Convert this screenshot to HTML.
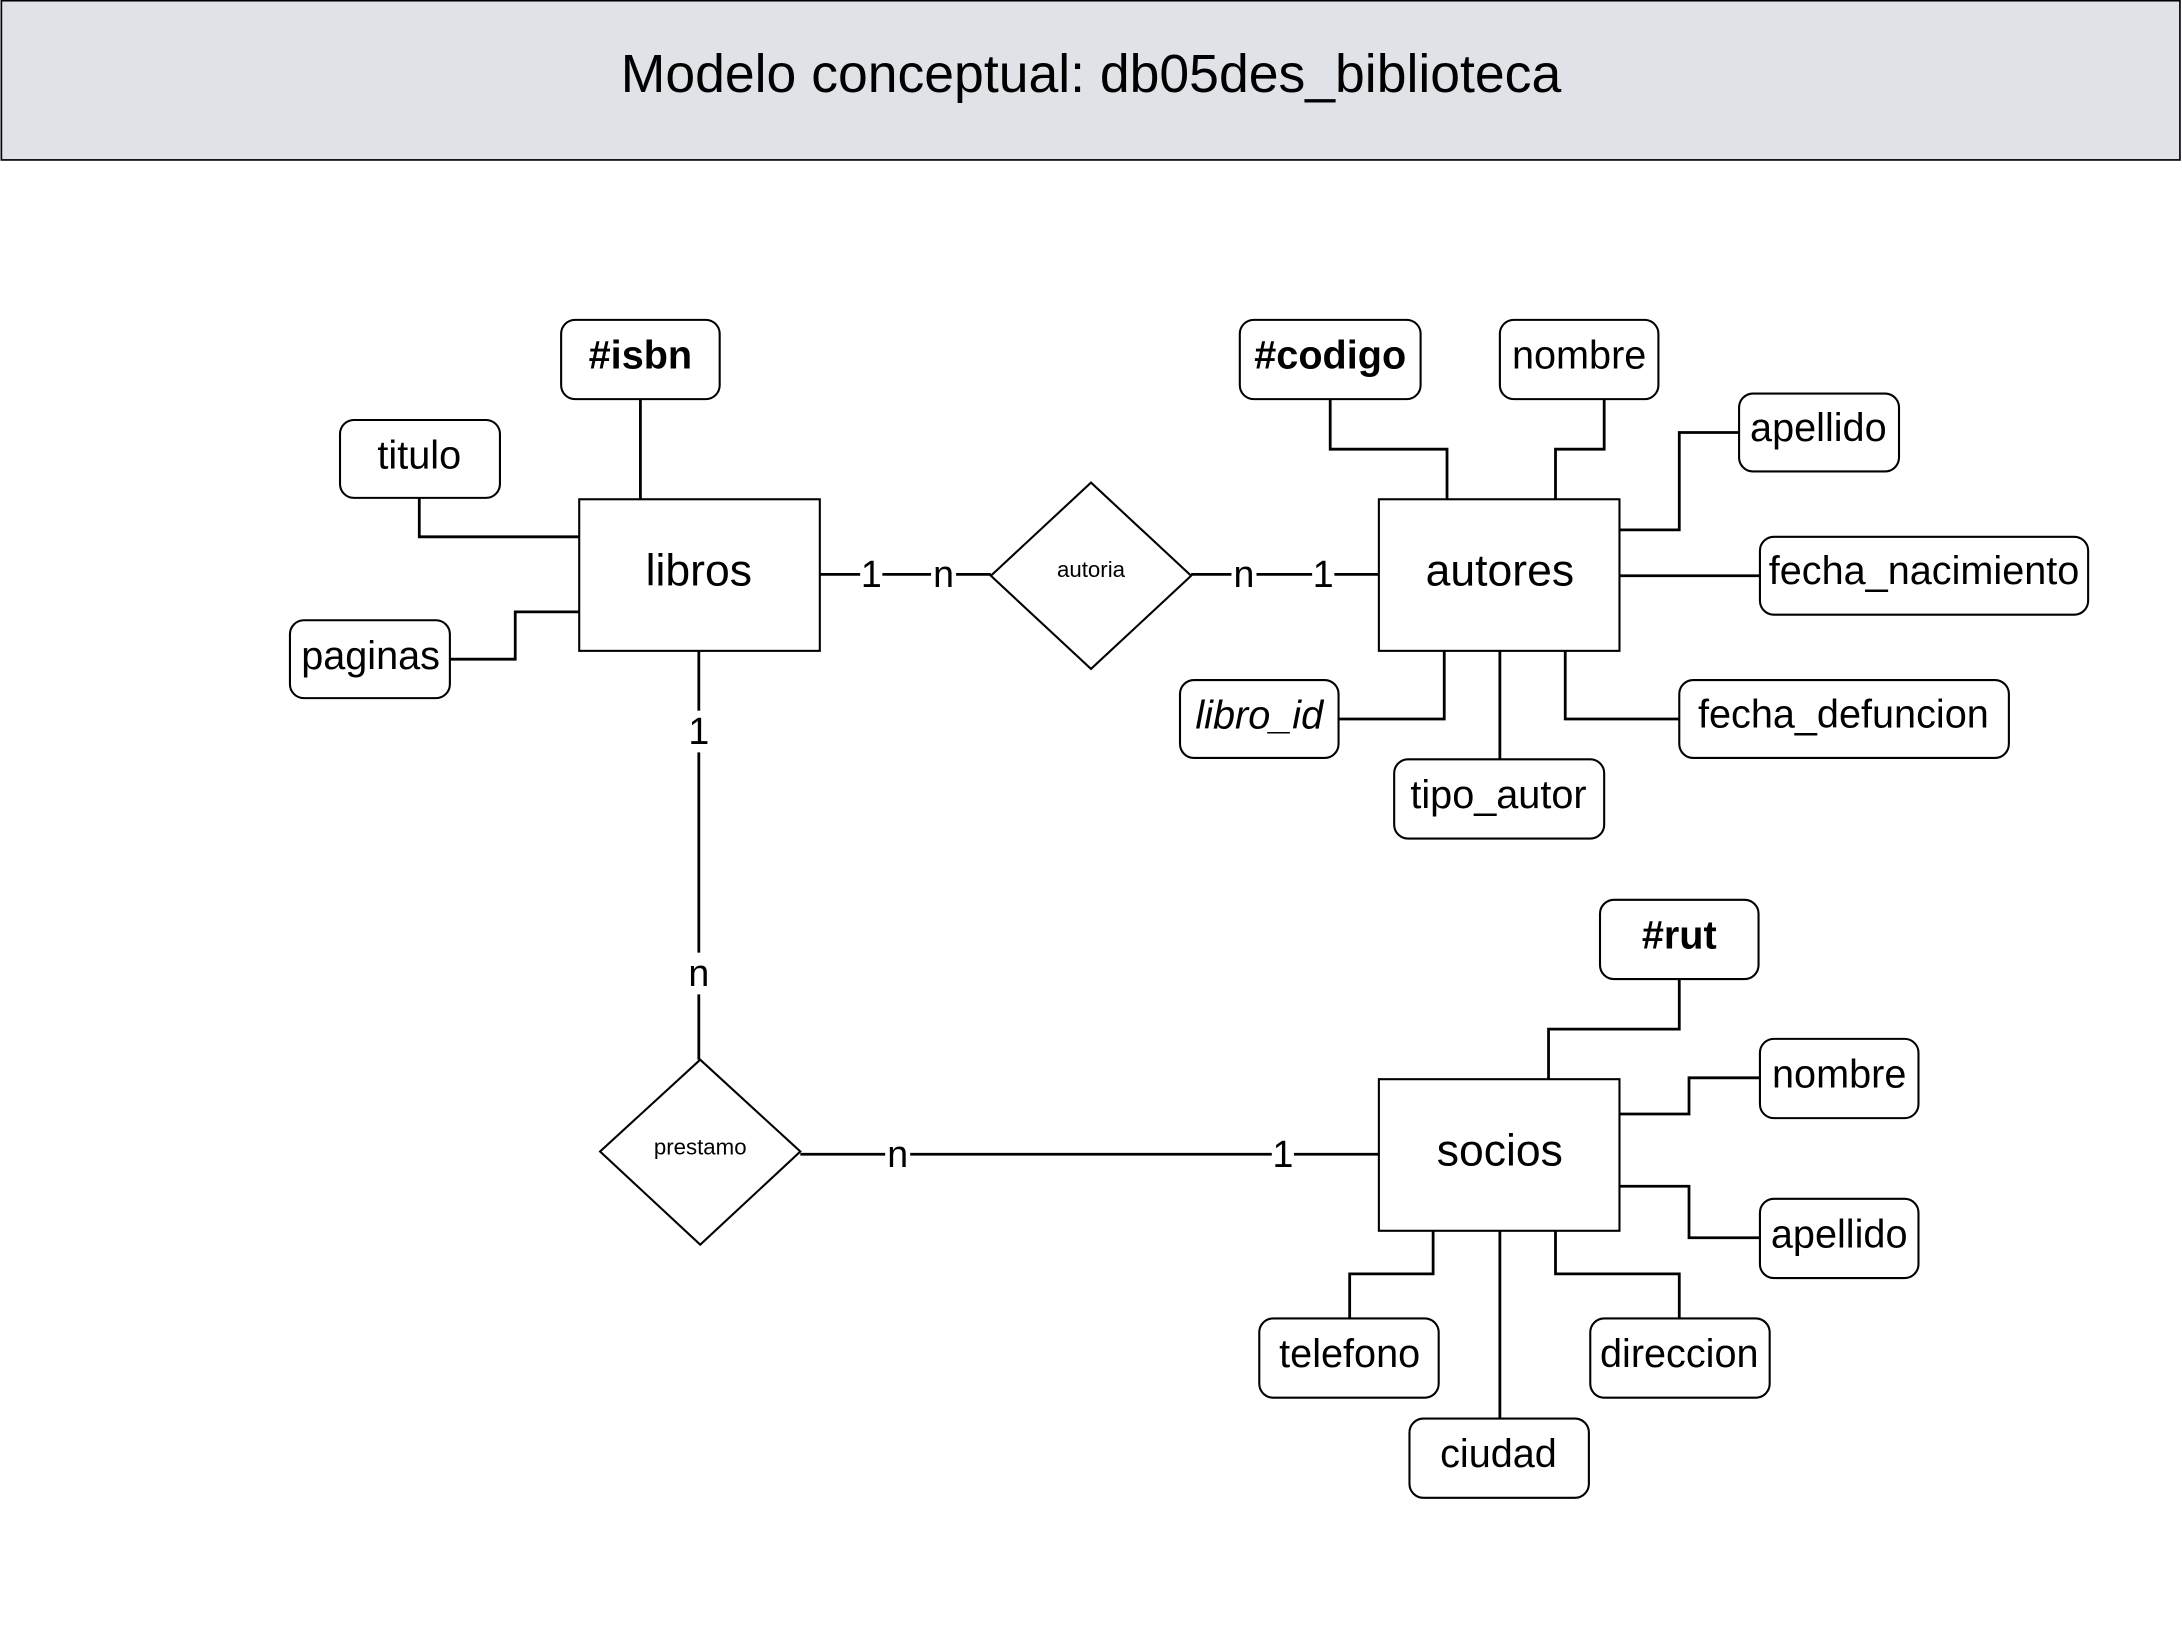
<!DOCTYPE html>
<html><head><meta charset="utf-8"><style>
html,body{margin:0;padding:0;background:#fff;}
svg{display:block;}
text{font-family:"Liberation Sans",Arial,sans-serif;fill:#000;}
</style></head><body>
<svg width="2182" height="1648" viewBox="0 0 1568 1185" xmlns="http://www.w3.org/2000/svg">
<rect x="0" y="0" width="1568" height="1185" fill="#fff"/>
<rect x="0.5" y="0.5" width="1566.5" height="114.5" fill="#dfe3e8" stroke="#000" stroke-width="1.2"/>
<text x="784" y="66" font-size="38.5" text-anchor="middle">Modelo conceptual: db05des_biblioteca</text>

<g fill="none" stroke="#000" stroke-width="2">
<polyline points="460,287 460,359"/>
<polyline points="301,358 301,386 416,386"/>
<polyline points="323,474 370,474 370,440 416,440"/>
<polyline points="956,287 956,323 1040,323 1040,359"/>
<polyline points="1153,287 1153,323 1118,323 1118,359"/>
<polyline points="1250,311 1207,311 1207,381 1164,381"/>
<polyline points="1164,414 1265,414"/>
<polyline points="1125,468 1125,517 1207,517"/>
<polyline points="1078,468 1078,546"/>
<polyline points="962,517 1038,517 1038,468"/>
<polyline points="1207,704 1207,740 1113,740 1113,776"/>
<polyline points="1164,801 1214,801 1214,775 1265,775"/>
<polyline points="1164,853 1214,853 1214,890 1265,890"/>
<polyline points="970,948 970,916 1030,916 1030,885"/>
<polyline points="1207,948 1207,916 1118,916 1118,885"/>
<polyline points="1078,885 1078,1020"/>
<line x1="589" y1="413" x2="712" y2="413"/>
<line x1="856" y1="413" x2="991" y2="413"/>
<line x1="502" y1="468" x2="502" y2="762"/>
<line x1="575" y1="830" x2="991" y2="830"/>
</g>

<g font-size="27" text-anchor="middle">
<rect x="618" y="398" width="16" height="28" fill="#fff"/><text x="626" y="422">1</text>
<rect x="669" y="398" width="18" height="28" fill="#fff"/><text x="678" y="422">n</text>
<rect x="885" y="398" width="18" height="28" fill="#fff"/><text x="894" y="422">n</text>
<rect x="943" y="398" width="16" height="28" fill="#fff"/><text x="951" y="422">1</text>
<rect x="492" y="511" width="20" height="30" fill="#fff"/><text x="502" y="535">1</text>
<rect x="492" y="685" width="20" height="30" fill="#fff"/><text x="502" y="709">n</text>
<rect x="636" y="815" width="18" height="28" fill="#fff"/><text x="645" y="839">n</text>
<rect x="914" y="815" width="16" height="28" fill="#fff"/><text x="922" y="839">1</text>
</g>

<g fill="#fff" stroke="#000" stroke-width="1.5">
<rect x="416" y="359" width="173" height="109"/>
<rect x="991" y="359" width="173" height="109"/>
<rect x="991" y="776" width="173" height="109"/>
<polygon points="712,414 784,347 856,414 784,481"/>
<polygon points="431,828 503,762 575,828 503,895"/>
<rect x="403" y="230" width="114" height="57" rx="10"/>
<rect x="244" y="302" width="115" height="56" rx="10"/>
<rect x="208" y="446" width="115" height="56" rx="10"/>
<rect x="891" y="230" width="130" height="57" rx="10"/>
<rect x="1078" y="230" width="114" height="57" rx="10"/>
<rect x="1250" y="283" width="115" height="56" rx="10"/>
<rect x="1265" y="386" width="236" height="56" rx="10"/>
<rect x="1207" y="489" width="237" height="56" rx="10"/>
<rect x="1002" y="546" width="151" height="57" rx="10"/>
<rect x="848" y="489" width="114" height="56" rx="10"/>
<rect x="1150" y="647" width="114" height="57" rx="10"/>
<rect x="1265" y="747" width="114" height="57" rx="10"/>
<rect x="1265" y="862" width="114" height="57" rx="10"/>
<rect x="905" y="948" width="129" height="57" rx="10"/>
<rect x="1143" y="948" width="129" height="57" rx="10"/>
<rect x="1013" y="1020" width="129" height="57" rx="10"/>
</g>

<g text-anchor="middle">
<text x="502" y="421" font-size="32">libros</text>
<text x="1078" y="421" font-size="32">autores</text>
<text x="1078" y="838" font-size="32">socios</text>
<text x="784" y="415" font-size="16">autoria</text>
<text x="503" y="830" font-size="16">prestamo</text>
<g font-size="28.5">
<text x="460" y="265" font-weight="bold">#isbn</text>
<text x="301" y="337">titulo</text>
<text x="266" y="481">paginas</text>
<text x="956" y="265" font-weight="bold">#codigo</text>
<text x="1135" y="265">nombre</text>
<text x="1307" y="317">apellido</text>
<text x="1383" y="420">fecha_nacimiento</text>
<text x="1325" y="523">fecha_defuncion</text>
<text x="1077" y="581">tipo_autor</text>
<text x="905" y="524" font-style="italic">libro_id</text>
<text x="1207" y="682" font-weight="bold">#rut</text>
<text x="1322" y="782">nombre</text>
<text x="1322" y="897">apellido</text>
<text x="970" y="983">telefono</text>
<text x="1207" y="983">direccion</text>
<text x="1077" y="1055">ciudad</text>
</g>
</g>
</svg>
</body></html>
